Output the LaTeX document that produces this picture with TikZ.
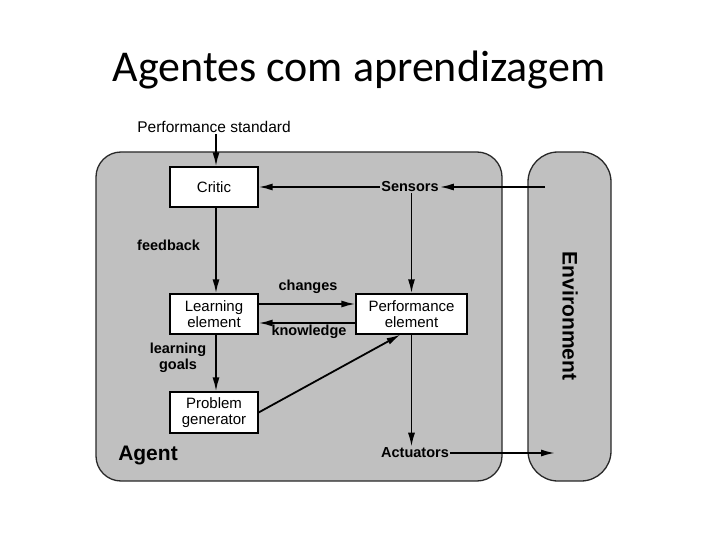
\documentclass[tikz,border=0pt]{standalone}
\usepackage{fontspec}
\setmainfont{Liberation Sans}
\newfontfamily\titlefont{Carlito}
\usetikzlibrary{arrows.meta}
\definecolor{panelgray}{RGB}{192,192,192}
\definecolor{edgegray}{RGB}{40,40,40}
\begin{document}
\begin{tikzpicture}[x=1pt,y=-1pt,
  box/.style={draw=black,fill=white,line width=1.2pt,inner sep=0pt,align=center,font=\fontsize{15}{15.5}\selectfont},
  lbl/.style={font=\bfseries\fontsize{14.5}{15}\selectfont,inner sep=1pt,align=center},
  plain/.style={font=\fontsize{15.5}{16}\selectfont,inner sep=1pt},
  conn/.style={line width=1.8pt,-{Latex[length=14pt,width=7pt]}},
  panel/.style={draw=edgegray,fill=panelgray,line width=1.3pt}]
\useasboundingbox (0,0) rectangle (720,540);
\node[anchor=base,inner sep=0pt,font=\titlefont\fontsize{44}{48}\selectfont] (title) at (359,82) {Agentes com aprendizagem};
% panels
\draw[panel,rounded corners=25pt] (96,152) rectangle (502,481);
\draw[panel,rounded corners=30pt] (528,152) rectangle (611,481);
% boxes
\node[box,minimum width=88pt,minimum height=40pt] (critic) at (214,187) {Critic};
\node[box,minimum width=88pt,minimum height=40pt] (learn) at (214,314) {Learning\\element};
\node[box,minimum width=88pt,minimum height=41pt] (prob) at (214,412.5) {Problem\\generator};
\node[box,minimum width=111pt,minimum height=40pt] (perf) at (411.5,314) {Performance\\element};
% labels
\node[plain] (pstd) at (214,127) {Performance standard};
\node[lbl] (sens) at (410,187) {Sensors};
\node[lbl] (act) at (415,453) {Actuators};
\node[lbl,anchor=west] (fb) at (136,245) {feedback};
\node[lbl] (chg) at (308,287) {changes};
\node[lbl] (know) at (309,332) {knowledge};
\node[lbl,font=\bfseries\fontsize{14.5}{16}\selectfont] (lg) at (178,358) {learning\\goals};
\node[font=\bfseries\fontsize{21}{22}\selectfont,inner sep=0pt] (agent) at (148,455) {Agent};
\node[font=\bfseries\fontsize{21}{22}\selectfont,inner sep=0pt,rotate=-90] (env) at (570,316) {Environment};
\coordinate (envin) at (545,187);
\coordinate (envout) at (555,453);
% connectors
\draw[conn] (pstd.south -| critic.north) ++(2,0) coordinate (p1) -- (p1 |- critic.north);
\draw[conn] (envin) -- (sens.east);
\draw[conn] (sens.west) -- (critic.east);
\draw[conn] (sens.south -| perf.north) -- (perf.north);
\draw[conn] (perf.south) -- (perf.south |- act.north);
\draw[conn] (act.east) -- (envout);
\draw[conn] ([xshift=2pt]critic.south) -- ([xshift=2pt]learn.north);
\draw[conn] ([xshift=2pt]learn.south) -- ([xshift=2pt]prob.north);
\draw[conn] ([yshift=10pt]learn.east) -- ([yshift=10pt]perf.west);
\draw[conn] ([yshift=-9pt]perf.west) -- ([yshift=-9pt]learn.east);
\draw[conn] (prob.east) -- ([xshift=-11pt]perf.south);
\end{tikzpicture}
\end{document}
